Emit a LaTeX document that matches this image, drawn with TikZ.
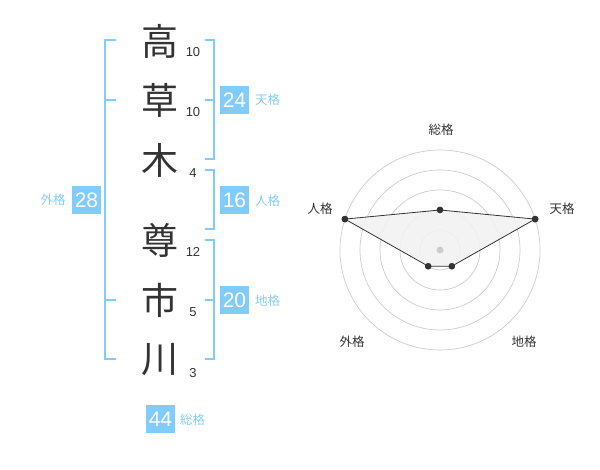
\documentclass[tikz,border=0pt]{standalone}
\usepackage{fontspec}
\usetikzlibrary{calc}
\setmainfont{Liberation Sans}
\newfontfamily\jp{Noto Sans CJK JP}
\definecolor{kblue}{HTML}{80CCFF}
\definecolor{ltxt}{HTML}{88CCF2}
\definecolor{dk}{HTML}{333333}
\definecolor{gr}{HTML}{CCCCCC}
\begin{document}
\begin{tikzpicture}[x=1pt,y=-1pt,
  kanji/.style={font=\jp\fontsize{37}{37}\selectfont,text=dk,inner sep=0pt},
  stroke/.style={font=\fontsize{13}{13}\selectfont,text=dk,inner sep=0pt},
  valbox/.style={fill=kblue,text=white,font=\fontsize{21}{21}\selectfont,minimum width=29pt,minimum height=28pt,inner sep=0pt},
  lbl/.style={font=\jp\fontsize{12.5}{12.5}\selectfont,text=ltxt,inner sep=0pt},
  brk/.style={draw=kblue,line width=1.6pt},
  ring/.style={draw=gr,line width=0.7pt},
  axlbl/.style={font=\jp\fontsize{12.5}{12.5}\selectfont,text=dk,inner sep=0pt},
  pt/.style={circle,fill=dk,inner sep=0pt,minimum size=6.5pt}]
\useasboundingbox (0,0) rectangle (600,470);
% kanji
\node[kanji] (k1) at (160,41) {高};
\node[kanji] (k2) at (160,100) {草};
\node[kanji] (k3) at (160,160) {木};
\node[kanji] (k4) at (160,240) {尊};
\node[kanji] (k5) at (160,300) {市};
\node[kanji] (k6) at (160,360) {川};
% strokes
\node[stroke] (s1) at (193,52) {10};
\node[stroke] (s2) at (193,112) {10};
\node[stroke] (s3) at (193,173) {4};
\node[stroke] (s4) at (193,252) {12};
\node[stroke] (s5) at (193,312) {5};
\node[stroke] (s6) at (193,373) {3};
% left bracket (gaikaku)
\coordinate (la) at (116,40); \coordinate (lb) at (105,40);
\coordinate (lc) at (105,359); \coordinate (ld) at (116,359);
\coordinate (lm1a) at (105,100); \coordinate (lm1b) at (116,100);
\coordinate (lm2a) at (105,300); \coordinate (lm2b) at (116,300);
\draw[brk] (la) -- (lb) -- (lc) -- (ld);
\draw[brk] (lm1a) -- (lm1b);
\draw[brk] (lm2a) -- (lm2b);
\node[valbox] (b28) at (86.5,200) {28};
\node[lbl] (t28) at (53,200) {外格};
% tenkaku bracket
\coordinate (ta) at (205,40); \coordinate (tb) at (214,40);
\coordinate (tc) at (214,159); \coordinate (td) at (205,159);
\coordinate (tm) at (205,100); \coordinate (tn) at (214,100);
\draw[brk] (ta) -- (tb) -- (tc) -- (td);
\draw[brk] (tm) -- (tn);
\node[valbox] (b24) at (234.5,100) {24};
\node[lbl,anchor=west] (t24) at (255,100) {天格};
% jinkaku bracket
\coordinate (ja) at (205,170); \coordinate (jb) at (214,170);
\coordinate (jc) at (214,229); \coordinate (jd) at (205,229);
\draw[brk] (ja) -- (jb) -- (jc) -- (jd);
\node[valbox] (b16) at (234.5,200) {16};
\node[lbl,anchor=west] (t16) at (255,201) {人格};
% chikaku bracket
\coordinate (ca) at (205,240); \coordinate (cb) at (214,240);
\coordinate (cc) at (214,359); \coordinate (cd) at (205,359);
\coordinate (cm) at (205,300); \coordinate (cn) at (214,300);
\draw[brk] (ca) -- (cb) -- (cc) -- (cd);
\draw[brk] (cm) -- (cn);
\node[valbox] (b20) at (234.5,300) {20};
\node[lbl,anchor=west] (t20) at (255,301) {地格};
% soukaku
\node[valbox] (b44) at (160.5,419) {44};
\node[lbl,anchor=west] (t44) at (180,420) {総格};
% radar chart
\coordinate (O) at (440,250);
\foreach \r in {20,40,60,80,100} \draw[ring] (O) circle[radius=\r];
\node[pt] (p1) at ($(O)+(0,-40)$) {};
\node[pt] (p2) at ($(O)+(95.1,-30.9)$) {};
\node[pt] (p3) at ($(O)+(11.8,16.2)$) {};
\node[pt] (p4) at ($(O)+(-11.8,16.2)$) {};
\node[pt] (p5) at ($(O)+(-95.1,-30.9)$) {};
\fill[black!5,opacity=0.9] (p1.center) -- (p2.center) -- (p3.center) -- (p4.center) -- (p5.center) -- cycle;
\node[circle,fill=gr,inner sep=0pt,minimum size=7pt] (ctr) at (O) {};
\draw[dk,line width=0.8pt] (p1.center) -- (p2.center) -- (p3.center) -- (p4.center) -- (p5.center) -- cycle;
\foreach \p in {p1,p2,p3,p4,p5} \fill[dk] (\p) circle[radius=3.3];
\node[axlbl] (a1) at (441,130) {総格};
\node[axlbl] (a2) at (562,209) {天格};
\node[axlbl] (a3) at (320,209) {人格};
\node[axlbl] (a4) at (352,342) {外格};
\node[axlbl] (a5) at (524,342) {地格};
\end{tikzpicture}
\end{document}
